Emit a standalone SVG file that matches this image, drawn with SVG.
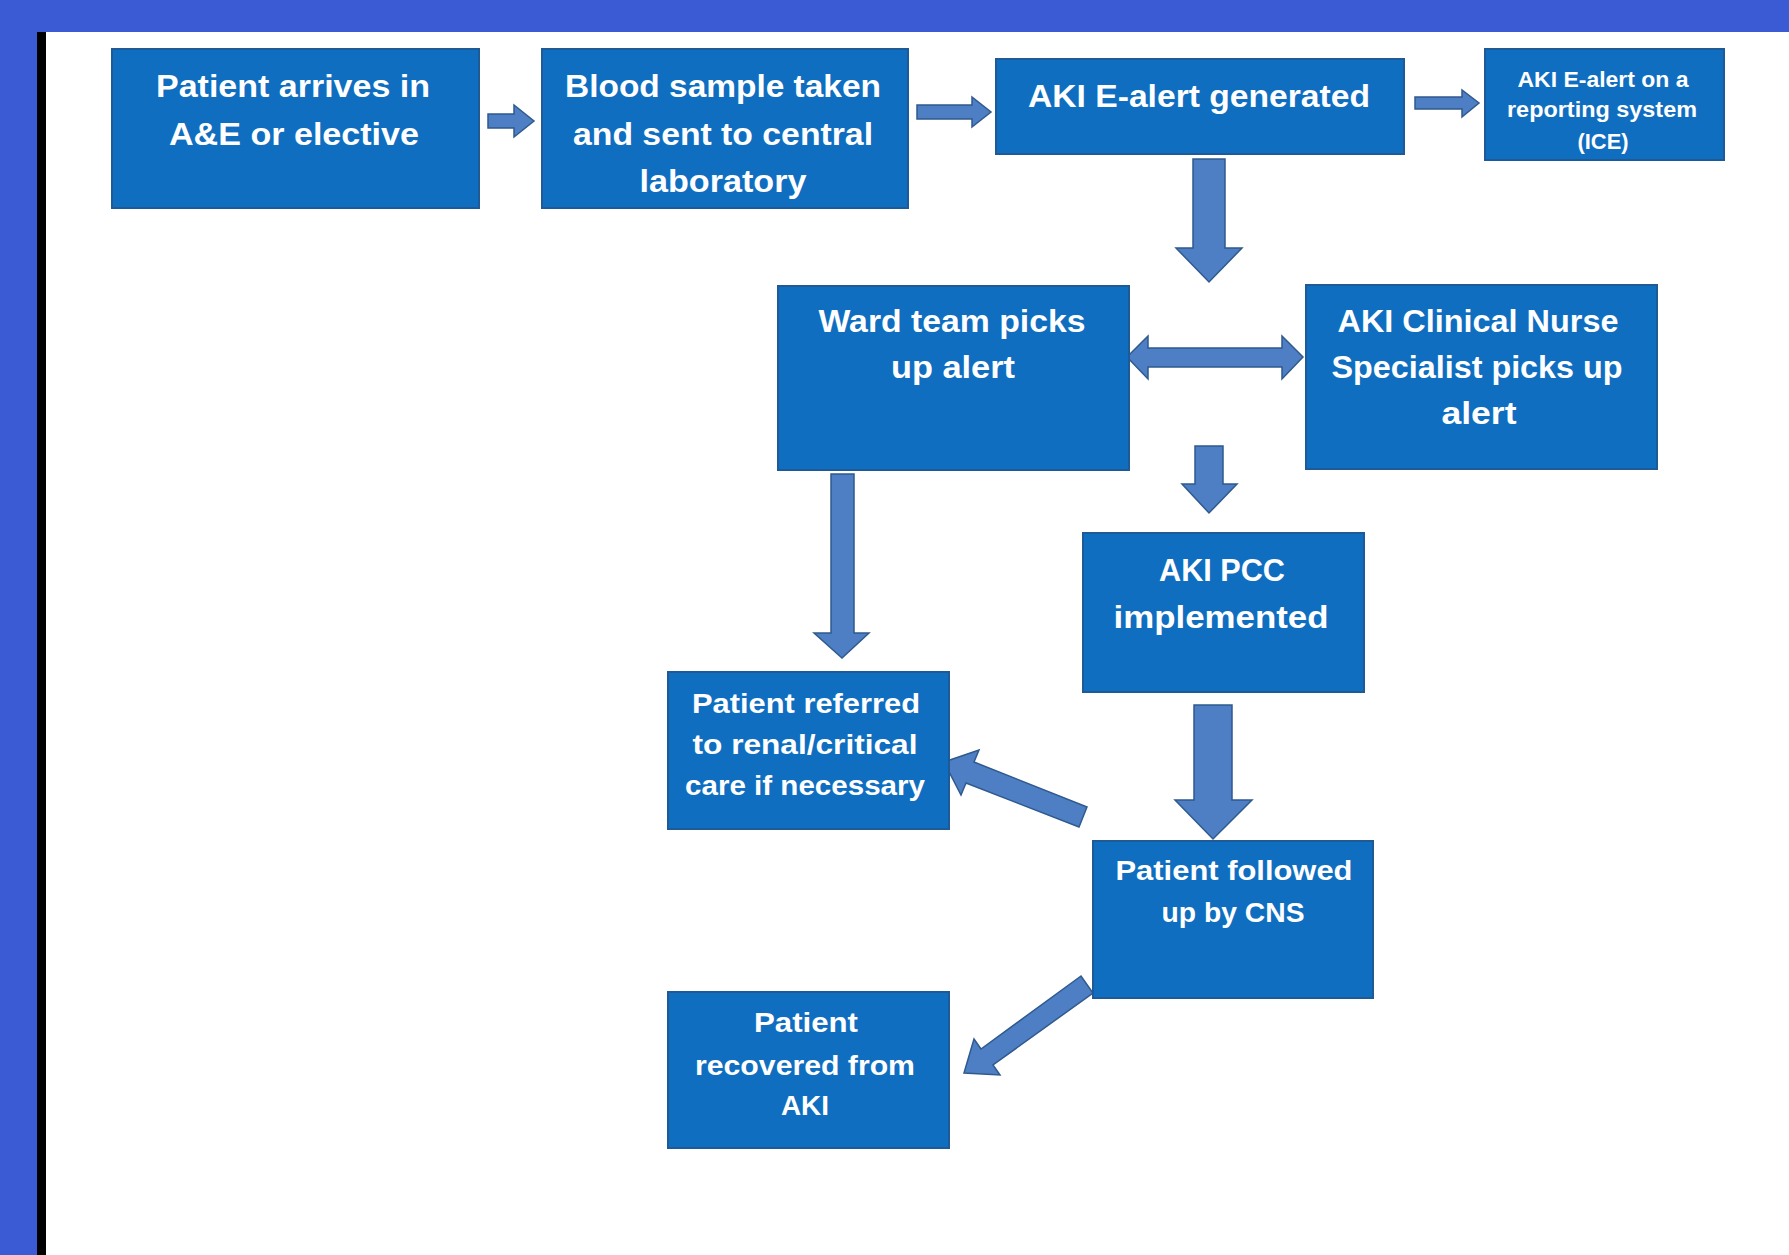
<svg xmlns="http://www.w3.org/2000/svg" width="1789" height="1255" viewBox="0 0 1789 1255">
<style>
.box{fill:#0F6EC0;stroke:#1E5A95;stroke-width:2}
.arr{fill:#4E7FC4;stroke:#2F5A8E;stroke-width:1.5;stroke-linejoin:miter}
.t{font-family:"Liberation Sans",Arial,sans-serif;font-weight:bold;fill:#FFFFFF;text-anchor:middle}
.l{font-size:31px}
.s{font-size:22px}
.m{font-size:28px}
</style>
<rect x="0" y="0" width="1789" height="1255" fill="#3A5BD3"/>
<rect x="37" y="32" width="1752" height="1223" fill="#FFFFFF"/>
<rect x="37" y="32" width="9" height="1223" fill="#000000"/>

<g id="connectors">
<polygon class="arr" points="488,114 514,114 514,105 534,121 514,137 514,128 488,128"/>
<polygon class="arr" points="917,105 972,105 972,97 991,112 972,127 972,119 917,119"/>
<polygon class="arr" points="1415,97 1462,97 1462,90 1479,103 1462,117 1462,109 1415,109"/>
<polygon class="arr" points="1193,159 1225,159 1225,248 1242,248 1209,282 1176,248 1193,248"/>
<polygon class="arr" points="1127,357 1148,336 1148,348 1282,348 1282,336 1303,357 1282,379 1282,367 1148,367 1148,379"/>
<polygon class="arr" points="1195,446 1223,446 1223,484 1237,484 1209,513 1182,484 1195,484"/>
<polygon class="arr" points="831,474 854,474 854,633 869,633 842,658 814,633 831,633"/>
<polygon class="arr" points="1194,705 1232,705 1232,800 1252,800 1213,839 1175,800 1194,800"/>
<polygon class="arr" points="1087,807 974,762 979,750 944,762 961,795 966,783 1079,827"/>
<polygon class="arr" points="1081,976 981,1049 974,1039 964,1073 1000,1075 993,1065 1093,993"/>
</g>

<g id="n1">
<rect class="box" x="112" y="49" width="367" height="159"/>
<text class="t l" x="293" y="97" textLength="274" lengthAdjust="spacingAndGlyphs">Patient arrives in</text>
<text class="t l" x="294" y="145" textLength="250" lengthAdjust="spacingAndGlyphs">A&amp;E or elective</text>
</g>

<g id="n2">
<rect class="box" x="542" y="49" width="366" height="159"/>
<text class="t l" x="723" y="97" textLength="316" lengthAdjust="spacingAndGlyphs">Blood sample taken</text>
<text class="t l" x="723" y="145" textLength="300" lengthAdjust="spacingAndGlyphs">and sent to central</text>
<text class="t l" x="723" y="192" textLength="167" lengthAdjust="spacingAndGlyphs">laboratory</text>
</g>

<g id="n3">
<rect class="box" x="996" y="59" width="408" height="95"/>
<text class="t l" x="1199" y="107" textLength="342" lengthAdjust="spacingAndGlyphs">AKI E-alert generated</text>
</g>

<g id="n4">
<rect class="box" x="1485" y="49" width="239" height="111"/>
<text class="t s" x="1603" y="87" textLength="171" lengthAdjust="spacingAndGlyphs">AKI E-alert on a</text>
<text class="t s" x="1602" y="117" textLength="190" lengthAdjust="spacingAndGlyphs">reporting system</text>
<text class="t s" x="1603" y="149" textLength="51" lengthAdjust="spacingAndGlyphs">(ICE)</text>
</g>

<g id="n5">
<rect class="box" x="778" y="286" width="351" height="184"/>
<text class="t l" x="952" y="332" textLength="267" lengthAdjust="spacingAndGlyphs">Ward team picks</text>
<text class="t l" x="953" y="378" textLength="124" lengthAdjust="spacingAndGlyphs">up alert</text>
</g>

<g id="n6">
<rect class="box" x="1306" y="285" width="351" height="184"/>
<text class="t l" x="1478" y="332" textLength="281" lengthAdjust="spacingAndGlyphs">AKI Clinical Nurse</text>
<text class="t l" x="1477" y="378" textLength="291" lengthAdjust="spacingAndGlyphs">Specialist picks up</text>
<text class="t l" x="1479" y="424" textLength="75" lengthAdjust="spacingAndGlyphs">alert</text>
</g>

<g id="n7">
<rect class="box" x="1083" y="533" width="281" height="159"/>
<text class="t l" x="1222" y="581" textLength="126" lengthAdjust="spacingAndGlyphs">AKI PCC</text>
<text class="t l" x="1221" y="628" textLength="215" lengthAdjust="spacingAndGlyphs">implemented</text>
</g>

<g id="n8">
<rect class="box" x="668" y="672" width="281" height="157"/>
<text class="t m" x="806" y="713" textLength="228" lengthAdjust="spacingAndGlyphs">Patient referred</text>
<text class="t m" x="805" y="754" textLength="225" lengthAdjust="spacingAndGlyphs">to renal/critical</text>
<text class="t m" x="805" y="795" textLength="240" lengthAdjust="spacingAndGlyphs">care if necessary</text>
</g>

<g id="n9">
<rect class="box" x="1093" y="841" width="280" height="157"/>
<text class="t m" x="1234" y="880" textLength="237" lengthAdjust="spacingAndGlyphs">Patient followed</text>
<text class="t m" x="1233" y="922" textLength="143" lengthAdjust="spacingAndGlyphs">up by CNS</text>
</g>

<g id="n10">
<rect class="box" x="668" y="992" width="281" height="156"/>
<text class="t m" x="806" y="1032" textLength="104" lengthAdjust="spacingAndGlyphs">Patient</text>
<text class="t m" x="805" y="1075" textLength="220" lengthAdjust="spacingAndGlyphs">recovered from</text>
<text class="t m" x="805" y="1115" textLength="48" lengthAdjust="spacingAndGlyphs">AKI</text>
</g>
</svg>
